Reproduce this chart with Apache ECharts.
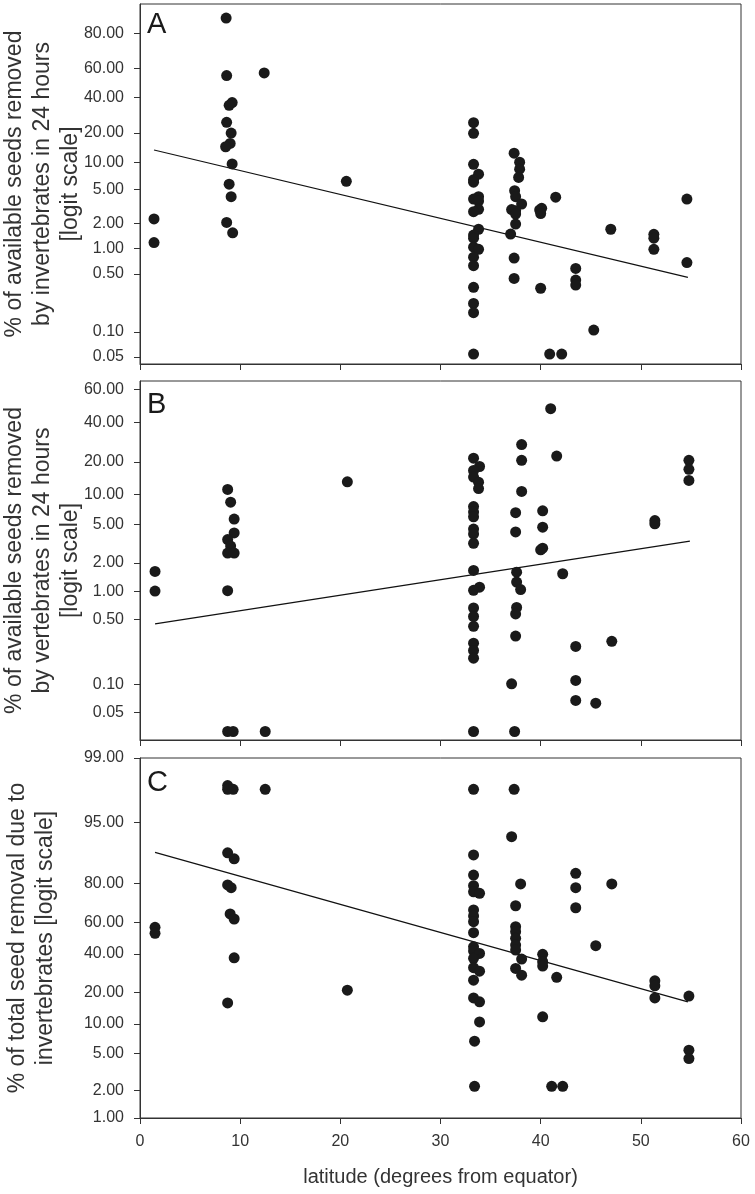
<!DOCTYPE html>
<html>
<head>
<meta charset="utf-8">
<script src="https://cdn.jsdelivr.net/npm/echarts@6/dist/echarts.min.js"></script>
<style>
html,body{margin:0;padding:0;background:#fff;}
#chart{width:755px;height:1194px;}
</style>
</head>
<body>
<div id="chart"></div>
<script>
// ---------- data (latitude, percent) ----------
const xTicks = [0, 10, 20, 30, 40, 50, 60];

const ticksA = [0.05, 0.10, 0.50, 1.00, 2.00, 5.00, 10.00, 20.00, 40.00, 60.00, 80.00];
const ticksB = [0.05, 0.10, 0.50, 1.00, 2.00, 5.00, 10.00, 20.00, 40.00, 60.00];
const ticksC = [1.00, 2.00, 5.00, 10.00, 20.00, 40.00, 60.00, 80.00, 95.00, 99.00];

const rangeA = [0.041, 90.0];
const rangeB = [0.0251, 65.0];
const rangeC = [1.00, 99.00];

const ptsA = [
  [1.4, 2.25], [1.4, 1.18],
  [8.6, 85.9], [8.65, 55.2], [12.4, 57.0], [9.2, 36.8], [8.9, 35.1], [8.65, 25.2], [9.1, 20.0],
  [9.0, 15.8], [8.55, 14.6], [9.2, 9.6], [8.9, 5.7], [9.1, 4.1], [8.65, 2.05], [9.25, 1.54], [20.6, 6.15],
  [33.3, 25.0], [33.3, 19.9], [33.3, 9.5], [33.8, 7.4], [33.3, 6.4], [33.3, 6.0], [33.8, 4.1], [33.3, 3.85],
  [33.8, 3.65], [33.8, 2.92], [33.3, 2.74], [33.8, 1.70], [33.3, 1.45], [33.3, 1.33], [33.3, 1.04], [33.8, 0.98],
  [33.3, 0.79], [33.3, 0.625], [33.3, 0.344], [33.3, 0.22], [33.3, 0.17], [33.3, 0.054],
  [37.35, 12.5], [37.9, 10.0], [37.9, 8.4], [37.8, 6.8], [37.4, 4.8], [37.5, 4.1], [38.1, 3.37], [37.1, 2.9],
  [37.5, 2.81], [37.5, 2.57], [37.5, 1.96], [37.0, 1.49], [37.35, 0.77], [37.35, 0.44],
  [39.9, 2.87], [40.1, 3.0], [40.0, 2.6], [41.5, 4.04], [40.0, 0.335], [40.9, 0.054], [42.1, 0.054],
  [43.5, 0.58], [43.5, 0.42], [43.5, 0.366], [45.3, 0.105], [47.0, 1.70], [51.3, 1.48], [51.3, 1.33],
  [51.3, 0.98], [54.6, 3.85], [54.6, 0.68]
];
const fitA = [[1.4, 13.5], [54.7, 0.453]];

const ptsB = [
  [1.5, 1.62], [1.5, 1.00], [8.75, 11.2], [9.05, 8.4], [9.4, 5.7], [9.4, 4.1], [8.75, 3.5], [9.05, 3.0],
  [8.75, 2.53], [9.4, 2.53], [8.75, 1.01], [8.75, 0.031], [9.3, 0.031], [12.5, 0.031], [20.7, 13.2],
  [33.3, 21.5], [33.9, 18.2], [33.3, 16.8], [33.3, 14.6], [33.8, 13.1], [33.8, 11.4], [33.3, 7.6], [33.3, 6.7],
  [33.3, 6.0], [33.3, 4.5], [33.3, 4.0], [33.3, 3.2], [33.3, 1.66], [33.9, 1.10], [33.3, 1.02], [33.3, 0.66],
  [33.3, 0.535], [33.3, 0.42], [33.3, 0.277], [33.3, 0.231], [33.3, 0.191], [33.3, 0.031],
  [38.1, 27.7], [38.1, 20.6], [38.1, 10.7], [37.5, 6.6], [37.5, 4.2], [37.6, 1.59], [37.6, 1.25], [38.0, 1.04],
  [37.6, 0.67], [37.5, 0.57], [37.5, 0.33], [37.1, 0.101], [37.4, 0.031],
  [41.0, 48.3], [41.6, 22.4], [40.2, 6.9], [40.2, 4.7], [40.2, 2.85], [40.0, 2.74], [42.2, 1.53],
  [43.5, 0.255], [43.5, 0.110], [43.5, 0.067], [45.5, 0.0625], [47.1, 0.29], [51.4, 5.5], [51.4, 5.1],
  [54.8, 20.6], [54.8, 17.2], [54.8, 13.6]
];
const fitB = [[1.5, 0.447], [54.9, 3.38]];

const ptsC = [
  [1.5, 56.8], [1.5, 53.0], [8.75, 98.0], [8.75, 97.8], [9.3, 97.8], [12.5, 97.8], [8.75, 89.8], [9.4, 88.3],
  [8.75, 79.5], [9.1, 78.3], [9.0, 64.9], [9.4, 61.9], [9.4, 37.6], [8.75, 16.0], [20.7, 20.9],
  [33.3, 97.8], [33.3, 89.3], [33.3, 83.3], [33.3, 79.2], [33.3, 76.5], [33.9, 75.8], [33.3, 67.2], [33.3, 63.7],
  [33.3, 60.3], [33.3, 53.4], [33.3, 44.4], [33.3, 41.8], [33.9, 40.3], [33.3, 37.3], [33.3, 31.9], [33.9, 30.0],
  [33.3, 25.4], [33.3, 17.8], [33.9, 16.4], [33.9, 10.5], [33.4, 6.7], [33.4, 2.22],
  [37.35, 97.8], [37.1, 93.0], [38.0, 79.9], [37.5, 69.5], [37.5, 57.2], [37.5, 54.0], [37.5, 49.8], [37.5, 45.5],
  [37.5, 42.4], [38.1, 36.9], [37.5, 31.5], [38.1, 27.9],
  [40.2, 39.7], [40.2, 35.3], [40.2, 32.8], [41.6, 26.8], [40.2, 11.8], [41.1, 2.22], [42.2, 2.22],
  [43.5, 83.9], [43.5, 78.3], [43.5, 68.4], [45.5, 45.1], [47.1, 79.9], [51.4, 25.1], [51.4, 22.8],
  [51.4, 17.8], [54.8, 18.5], [54.8, 5.4], [54.8, 4.4]
];
const fitC = [[1.5, 89.9], [54.7, 16.4]];

const panelLetters = ['A', 'B', 'C'];
const yTitles = [
  '% of available seeds removed\nby invertebrates in 24 hours\n[logit scale]',
  '% of available seeds removed\nby vertebrates in 24 hours\n[logit scale]',
  '% of total seed removal due to\ninvertebrates [logit scale]'
];
const xTitle = 'latitude (degrees from equator)';

// ---------- helpers ----------
const logit = p => Math.log(p / (100 - p));
const inv = v => 100 / (1 + Math.exp(-v));
const tr = arr => arr.map(([x, p]) => [x, logit(p)]);

const FONT = '"Liberation Sans", Arial, Helvetica, sans-serif';
const INK = '#333';
const grids = [
  { left: 140, right: 14, top: 4, height: 360 },
  { left: 140, right: 14, top: 381, height: 359 },
  { left: 140, right: 14, top: 758, height: 360 }
];
const tickSets = [ticksA, ticksB, ticksC];
const ranges = [rangeA, rangeB, rangeC];
const ptsSets = [ptsA, ptsB, ptsC];
const fitSets = [fitA, fitB, fitC];
const nameGaps = [55, 55, 80];
const letterTops = [10, 390, 768];

const option = {
  backgroundColor: '#fff',
  animation: false,
  textStyle: { fontFamily: FONT },
  title: panelLetters.map((t, i) => ({
    text: t, left: 147, top: letterTops[i], padding: 0,
    textStyle: { fontSize: 29, fontWeight: 'normal', color: '#1a1a1a', fontFamily: FONT }
  })),
  grid: grids.map(g => Object.assign({
    show: true, borderColor: INK, borderWidth: 1, backgroundColor: 'transparent',
    containLabel: false, outerBoundsMode: 'none'
  }, g)),
  xAxis: grids.map((g, i) => ({
    type: 'value', gridIndex: i, min: xTicks[0], max: xTicks[xTicks.length - 1],
    interval: xTicks[1] - xTicks[0],
    axisLine: { show: true, onZero: false, lineStyle: { color: INK, width: 1 } },
    axisTick: { show: true, inside: false, length: 6, lineStyle: { color: INK } },
    axisLabel: { show: i === 2, fontSize: 16, color: INK, margin: 16, fontFamily: FONT },
    splitLine: { show: false },
    name: i === 2 ? xTitle : '',
    nameLocation: 'middle', nameGap: 49, nameMoveOverlap: false,
    nameTextStyle: { fontSize: 20, color: INK, fontFamily: FONT }
  })),
  yAxis: grids.map((g, i) => ({
    type: 'value', gridIndex: i,
    min: logit(ranges[i][0]), max: logit(ranges[i][1]),
    axisLine: { show: true, lineStyle: { color: INK, width: 1 } },
    axisTick: { show: true, inside: false, length: 6, customValues: tickSets[i].map(logit), lineStyle: { color: INK } },
    axisLabel: {
      show: true, customValues: tickSets[i].map(logit),
      formatter: v => inv(v).toFixed(2),
      fontSize: 16, color: INK, margin: 16, fontFamily: FONT
    },
    splitLine: { show: false },
    name: yTitles[i], nameLocation: 'middle', nameGap: nameGaps[i], nameRotate: 90,
    nameMoveOverlap: false,
    nameTextStyle: { fontSize: 23, lineHeight: 28, color: INK, fontFamily: FONT, align: 'center' }
  })),
  series: [].concat(...ptsSets.map((pts, i) => [
    {
      type: 'scatter', xAxisIndex: i, yAxisIndex: i, data: tr(pts),
      symbol: 'circle', symbolSize: 11,
      itemStyle: { color: '#1a1a1a', opacity: 1 }, silent: true, z: 3
    },
    {
      type: 'line', xAxisIndex: i, yAxisIndex: i, data: tr(fitSets[i]),
      symbol: 'none', lineStyle: { color: '#111', width: 1.2 }, silent: true, z: 2
    }
  ]))
};

const chart = echarts.init(document.getElementById('chart'), null, { renderer: 'canvas' });
chart.setOption(option);
</script>
</body>
</html>
